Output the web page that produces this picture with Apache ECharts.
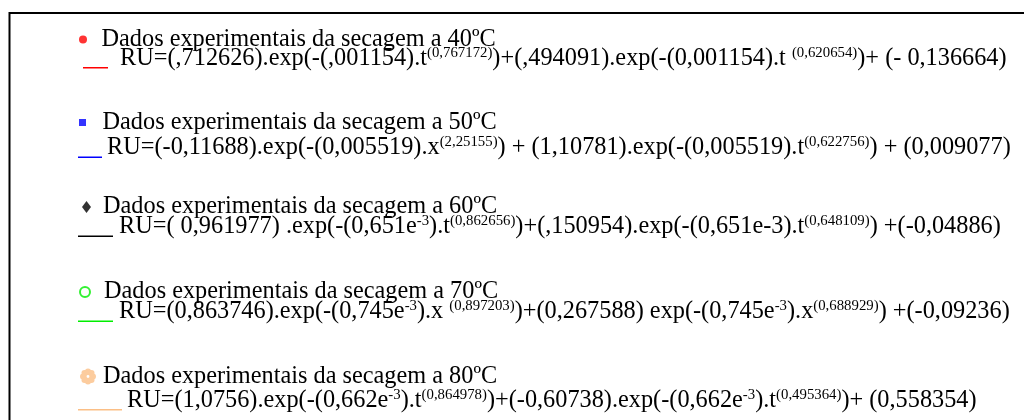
<!DOCTYPE html>
<html>
<head>
<meta charset="utf-8">
<script src="https://cdn.jsdelivr.net/npm/echarts@6/dist/echarts.min.js"></script>
<style>
html,body{margin:0;padding:0;background:#fff;}
#chart{width:1024px;height:420px;}
</style>
</head>
<body>
<div id="chart"></div>
<script>
// ---- data ----
const temperatures = [40, 50, 60, 70, 80];
const dataLabels = temperatures.map(t => 'Dados experimentais da secagem a ' + t + 'ºC');
const modelNames = temperatures.map(t => 'Modelo ' + t + 'ºC');
const equations = [
  'RU=(,712626).exp(-(,001154).t^{(0,767172)})+(,494091).exp(-(0,001154).t ^{(0,620654)})+ (- 0,136664)',
  'RU=(-0,11688).exp(-(0,005519).x^{(2,25155)}) + (1,10781).exp(-(0,005519).t^{(0,622756)}) + (0,009077)',
  'RU=( 0,961977) .exp(-(0,651e^{-3}).t^{(0,862656)})+(,150954).exp(-(0,651e-3).t^{(0,648109)}) +(-0,04886)',
  'RU=(0,863746).exp(-(0,745e^{-3}).x ^{(0,897203)})+(0,267588) exp(-(0,745e^{-3}).x^{(0,688929)}) +(-0,09236)',
  'RU=(1,0756).exp(-(0,662e^{-3}).t^{(0,864978)})+(-0,60738).exp(-(0,662e^{-3}).t^{(0,495364)})+ (0,558354)'
];
const experimentalValues = [[], [], [], [], []];
const modelValues = [[], [], [], [], []];

// ---- styles / layout ----
const seriesColors = ['#ff0000', '#0000ff', '#000000', '#00ee00', '#fbbf86'];
function circ(cx, cy, r, sweep) {
  return 'M' + (cx + r) + ',' + cy + 'A' + r + ',' + r + ',0,1,' + sweep + ',' + (cx - r) + ',' + cy +
         'A' + r + ',' + r + ',0,1,' + sweep + ',' + (cx + r) + ',' + cy + 'Z';
}
let flower = '';
for (let k = 0; k < 8; k++) {
  const a = k * Math.PI / 4;
  flower += circ(8 + 4.9 * Math.cos(a), 8 + 4.9 * Math.sin(a), 3.0, 1);
}
flower += circ(8, 8, 5, 1) + circ(8, 8, 1.4, 0);
const symbolIcons = ['circle', 'rect', 'diamond', 'emptyCircle', 'path://' + flower];
const lineIcon = 'path://M0,0L1,0L1,0.01L0,0.01Z M0,20.5L1,20.5L1,22L0,22Z M0,23.99L1,23.99L1,24L0,24Z';

const FONT = 'Liberation Serif';
const FS = 24.3, SUP = 14.8, LH = 26;
const titleY = [39.5, 122.5, 207, 292, 376.5];
const eqY = [58.5, 148, 227, 312, 400.5];
const symLeft = [79, 79, 82, 79, 80];
const symW = [8, 7, 9, 10, 16];
const symH = [8, 7, 12, 10, 16];
const titleX = [101.5, 102.5, 103, 103, 103];
const lineLeft = [83, 78, 78, 78, 78];
const lineW = [25, 24, 35, 35, 44];
const eqX = [120, 107, 119, 119, 127];

function toRich(s) {
  return s.replace(/\^\{([^}]*)\}/g, '{sup|$1}');
}

const legends = [];
temperatures.forEach((t, i) => {
  legends.push({
    left: symLeft[i], top: titleY[i] - LH / 2, padding: 0,
    orient: 'vertical', selectedMode: false,
    itemWidth: symW[i], itemHeight: symH[i], symbolKeepAspect: false,
    itemStyle: { borderWidth: 0 },
    data: [{ name: dataLabels[i], icon: symbolIcons[i] }],
    textStyle: {
      fontFamily: FONT, fontSize: FS, color: '#000', lineHeight: LH,
      padding: [0, 0, 0, Math.max(0, titleX[i] - (symLeft[i] + symW[i] + 5))]
    }
  });
  legends.push({
    left: lineLeft[i], top: eqY[i] - LH / 2, padding: 0,
    orient: 'vertical', selectedMode: false,
    itemWidth: lineW[i], itemHeight: 24, symbolKeepAspect: false,
    itemStyle: { borderWidth: 0 },
    data: [{ name: modelNames[i], icon: lineIcon }],
    formatter: () => toRich(equations[i]),
    textStyle: {
      fontFamily: FONT, fontSize: FS, color: '#000', lineHeight: LH,
      padding: [0, 0, 0, Math.max(0, eqX[i] - (lineLeft[i] + lineW[i] + 5))],
      rich: {
        sup: { fontFamily: FONT, fontSize: SUP, color: '#000', verticalAlign: 'top' }
      }
    }
  });
});

const series = [];
temperatures.forEach((t, i) => {
  series.push({ type: 'scatter', name: dataLabels[i], color: seriesColors[i], data: experimentalValues[i] });
  series.push({ type: 'line', name: modelNames[i], color: seriesColors[i], data: modelValues[i], showSymbol: false });
});

const chart = echarts.init(document.getElementById('chart'), null, { renderer: 'canvas' });
chart.setOption({
  animation: false,
  backgroundColor: '#fff',
  grid: { left: 0, right: 0, top: 0, bottom: 0, show: false },
  xAxis: { type: 'value', show: false },
  yAxis: { type: 'value', show: false },
  legend: legends,
  graphic: [{
    type: 'rect', silent: true,
    shape: { x: 9.5, y: 13, width: 1100, height: 500 },
    style: { fill: 'none', stroke: '#000', lineWidth: 2 }
  }],
  series: series
});
</script>
</body>
</html>
